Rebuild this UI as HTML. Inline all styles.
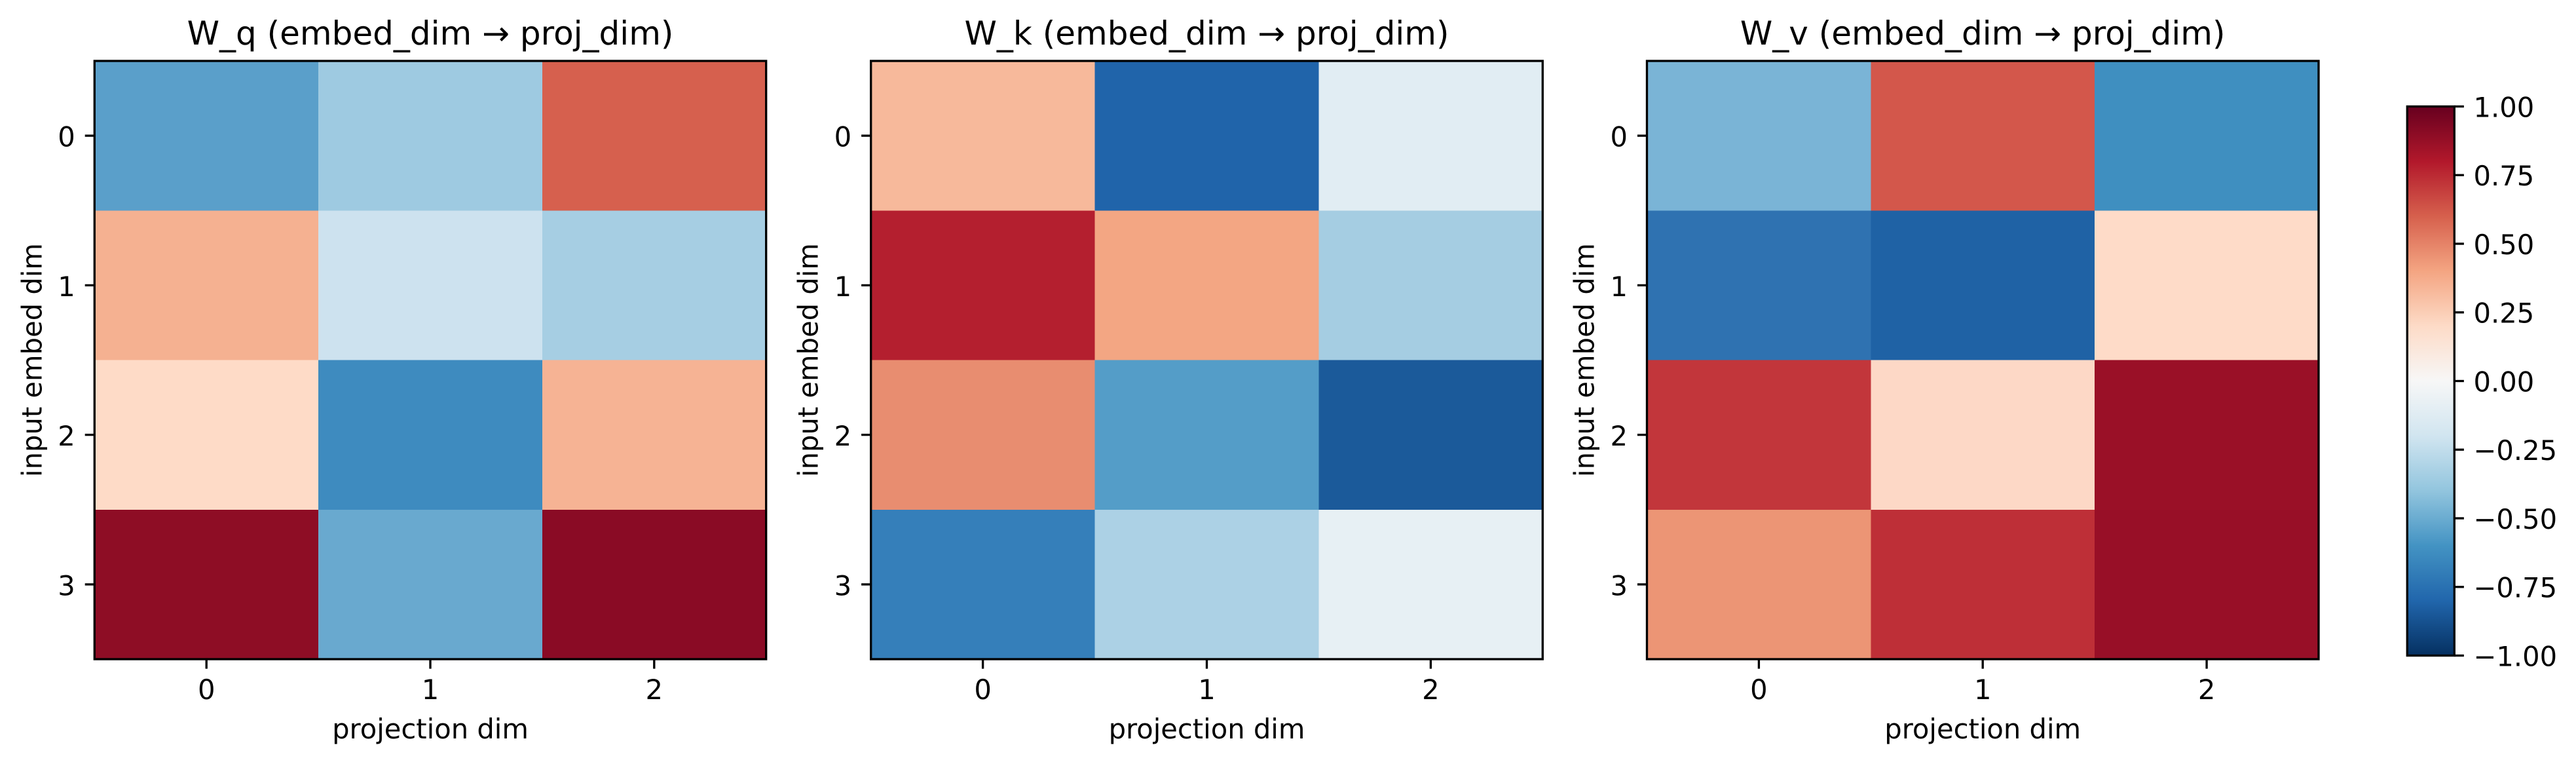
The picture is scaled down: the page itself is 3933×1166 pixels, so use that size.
<!DOCTYPE html>
<html>
<head>
<meta charset="utf-8">
<style>
  html, body { margin:0; padding:0; background:#ffffff; }
  svg { display:block; }
  text { font-family: "DejaVu Sans", "Liberation Sans", sans-serif; fill:#000; }
</style>
</head>
<body>
<svg width="3933" height="1166" viewBox="0 0 3933 1166" xmlns="http://www.w3.org/2000/svg">
  <defs>
    <linearGradient id="rdbu" x1="0" y1="1" x2="0" y2="0">
      <stop offset="0" stop-color="#053061"/>
      <stop offset="0.1" stop-color="#2166ac"/>
      <stop offset="0.2" stop-color="#4393c3"/>
      <stop offset="0.3" stop-color="#92c5de"/>
      <stop offset="0.4" stop-color="#d1e5f0"/>
      <stop offset="0.5" stop-color="#f7f7f7"/>
      <stop offset="0.6" stop-color="#fddbc7"/>
      <stop offset="0.7" stop-color="#f4a582"/>
      <stop offset="0.8" stop-color="#d6604d"/>
      <stop offset="0.9" stop-color="#b2182b"/>
      <stop offset="1" stop-color="#67001f"/>
    </linearGradient>
  </defs>
  <rect x="0" y="0" width="3933" height="1166" fill="#ffffff"/>

  <!-- ===== Axes 1: W_q ===== -->
  <g shape-rendering="crispEdges">
    <rect x="144.3" y="93" width="342.3" height="228.8" fill="#5a9fca"/>
    <rect x="486.1" y="93" width="342.3" height="228.8" fill="#9ecae1"/>
    <rect x="827.9" y="93" width="341.8" height="228.8" fill="#d6604e"/>
    <rect x="144.3" y="321.25" width="342.3" height="228.8" fill="#f5b191"/>
    <rect x="486.1" y="321.25" width="342.3" height="228.8" fill="#cde2ef"/>
    <rect x="827.9" y="321.25" width="341.8" height="228.8" fill="#a6cee3"/>
    <rect x="144.3" y="549.5" width="342.3" height="228.8" fill="#fedbc7"/>
    <rect x="486.1" y="549.5" width="342.3" height="228.8" fill="#3e8bbf"/>
    <rect x="827.9" y="549.5" width="341.8" height="228.8" fill="#f6b394"/>
    <rect x="144.3" y="777.75" width="342.3" height="228.25" fill="#8e0d25"/>
    <rect x="486.1" y="777.75" width="342.3" height="228.25" fill="#69a9cf"/>
    <rect x="827.9" y="777.75" width="341.8" height="228.25" fill="#8a0b25"/>
  </g>
  <rect x="144.3" y="93" width="1025.4" height="913" fill="none" stroke="#000" stroke-width="3.33"/>
  <g stroke="#000" stroke-width="3.33">
    <line x1="315.2" y1="1006" x2="315.2" y2="1020.6"/>
    <line x1="657" y1="1006" x2="657" y2="1020.6"/>
    <line x1="998.8" y1="1006" x2="998.8" y2="1020.6"/>
    <line x1="144.3" y1="207.1" x2="129.7" y2="207.1"/>
    <line x1="144.3" y1="435.4" x2="129.7" y2="435.4"/>
    <line x1="144.3" y1="663.6" x2="129.7" y2="663.6"/>
    <line x1="144.3" y1="891.9" x2="129.7" y2="891.9"/>
  </g>
  <g font-size="41.67" text-anchor="middle">
    <text x="315.2" y="1067">0</text>
    <text x="657" y="1067">1</text>
    <text x="998.8" y="1067">2</text>
    <text x="657" y="1127">projection dim</text>
  </g>
  <g font-size="41.67" text-anchor="end">
    <text x="114.8" y="223.5">0</text>
    <text x="114.8" y="451.8">1</text>
    <text x="114.8" y="680">2</text>
    <text x="114.8" y="908.3">3</text>
  </g>
  <text font-size="41.67" text-anchor="middle" transform="translate(63.3,549.5) rotate(-90)">input embed dim</text>
  <text font-size="50" text-anchor="middle" x="657" y="68">W_q (embed_dim → proj_dim)</text>

  <!-- ===== Axes 2: W_k ===== -->
  <g shape-rendering="crispEdges">
    <rect x="1329.7" y="93" width="342.3" height="228.8" fill="#f7b99b"/>
    <rect x="1671.6" y="93" width="342.3" height="228.8" fill="#2064aa"/>
    <rect x="2013.4" y="93" width="341.9" height="228.8" fill="#e1edf3"/>
    <rect x="1329.7" y="321.25" width="342.3" height="228.8" fill="#b41f2f"/>
    <rect x="1671.6" y="321.25" width="342.3" height="228.8" fill="#f3a683"/>
    <rect x="2013.4" y="321.25" width="341.9" height="228.8" fill="#a5cde2"/>
    <rect x="1329.7" y="549.5" width="342.3" height="228.8" fill="#e88d70"/>
    <rect x="1671.6" y="549.5" width="342.3" height="228.8" fill="#549dc8"/>
    <rect x="2013.4" y="549.5" width="341.9" height="228.8" fill="#1b5a9a"/>
    <rect x="1329.7" y="777.75" width="342.3" height="228.25" fill="#357fba"/>
    <rect x="1671.6" y="777.75" width="342.3" height="228.25" fill="#acd1e5"/>
    <rect x="2013.4" y="777.75" width="341.9" height="228.25" fill="#e7f0f4"/>
  </g>
  <rect x="1329.7" y="93" width="1025.6" height="913" fill="none" stroke="#000" stroke-width="3.33"/>
  <g stroke="#000" stroke-width="3.33">
    <line x1="1500.6" y1="1006" x2="1500.6" y2="1020.6"/>
    <line x1="1842.5" y1="1006" x2="1842.5" y2="1020.6"/>
    <line x1="2184.4" y1="1006" x2="2184.4" y2="1020.6"/>
    <line x1="1329.7" y1="207.1" x2="1315.1" y2="207.1"/>
    <line x1="1329.7" y1="435.4" x2="1315.1" y2="435.4"/>
    <line x1="1329.7" y1="663.6" x2="1315.1" y2="663.6"/>
    <line x1="1329.7" y1="891.9" x2="1315.1" y2="891.9"/>
  </g>
  <g font-size="41.67" text-anchor="middle">
    <text x="1500.6" y="1067">0</text>
    <text x="1842.5" y="1067">1</text>
    <text x="2184.4" y="1067">2</text>
    <text x="1842.5" y="1127">projection dim</text>
  </g>
  <g font-size="41.67" text-anchor="end">
    <text x="1300.2" y="223.5">0</text>
    <text x="1300.2" y="451.8">1</text>
    <text x="1300.2" y="680">2</text>
    <text x="1300.2" y="908.3">3</text>
  </g>
  <text font-size="41.67" text-anchor="middle" transform="translate(1248.7,549.5) rotate(-90)">input embed dim</text>
  <text font-size="50" text-anchor="middle" x="1842.5" y="68">W_k (embed_dim → proj_dim)</text>

  <!-- ===== Axes 3: W_v ===== -->
  <g shape-rendering="crispEdges">
    <rect x="2514.5" y="93" width="342.3" height="228.8" fill="#7ab4d6"/>
    <rect x="2856.3" y="93" width="342.3" height="228.8" fill="#d3574b"/>
    <rect x="3198.2" y="93" width="341.8" height="228.8" fill="#3f8fc0"/>
    <rect x="2514.5" y="321.25" width="342.3" height="228.8" fill="#2f72b1"/>
    <rect x="2856.3" y="321.25" width="342.3" height="228.8" fill="#1f62a5"/>
    <rect x="3198.2" y="321.25" width="341.8" height="228.8" fill="#fedbc8"/>
    <rect x="2514.5" y="549.5" width="342.3" height="228.8" fill="#c2363b"/>
    <rect x="2856.3" y="549.5" width="342.3" height="228.8" fill="#fdd8c6"/>
    <rect x="3198.2" y="549.5" width="341.8" height="228.8" fill="#9a1027"/>
    <rect x="2514.5" y="777.75" width="342.3" height="228.25" fill="#ec9575"/>
    <rect x="2856.3" y="777.75" width="342.3" height="228.25" fill="#be2f37"/>
    <rect x="3198.2" y="777.75" width="341.8" height="228.25" fill="#980f27"/>
  </g>
  <rect x="2514.5" y="93" width="1025.5" height="913" fill="none" stroke="#000" stroke-width="3.33"/>
  <g stroke="#000" stroke-width="3.33">
    <line x1="2685.4" y1="1006" x2="2685.4" y2="1020.6"/>
    <line x1="3027.2" y1="1006" x2="3027.2" y2="1020.6"/>
    <line x1="3369.1" y1="1006" x2="3369.1" y2="1020.6"/>
    <line x1="2514.5" y1="207.1" x2="2499.9" y2="207.1"/>
    <line x1="2514.5" y1="435.4" x2="2499.9" y2="435.4"/>
    <line x1="2514.5" y1="663.6" x2="2499.9" y2="663.6"/>
    <line x1="2514.5" y1="891.9" x2="2499.9" y2="891.9"/>
  </g>
  <g font-size="41.67" text-anchor="middle">
    <text x="2685.4" y="1067">0</text>
    <text x="3027.2" y="1067">1</text>
    <text x="3369.1" y="1067">2</text>
    <text x="3027.2" y="1127">projection dim</text>
  </g>
  <g font-size="41.67" text-anchor="end">
    <text x="2485" y="223.5">0</text>
    <text x="2485" y="451.8">1</text>
    <text x="2485" y="680">2</text>
    <text x="2485" y="908.3">3</text>
  </g>
  <text font-size="41.67" text-anchor="middle" transform="translate(2433.5,549.5) rotate(-90)">input embed dim</text>
  <text font-size="50" text-anchor="middle" x="3027.2" y="68">W_v (embed_dim → proj_dim)</text>

  <!-- ===== Colorbar ===== -->
  <rect x="3675.3" y="162.5" width="72" height="838" fill="url(#rdbu)"/>
  <rect x="3675.3" y="162.5" width="72" height="838" fill="none" stroke="#000" stroke-width="3.33"/>
  <g stroke="#000" stroke-width="3.33">
    <line x1="3747.3" y1="162.5" x2="3761.9" y2="162.5"/>
    <line x1="3747.3" y1="267.25" x2="3761.9" y2="267.25"/>
    <line x1="3747.3" y1="372" x2="3761.9" y2="372"/>
    <line x1="3747.3" y1="476.75" x2="3761.9" y2="476.75"/>
    <line x1="3747.3" y1="581.5" x2="3761.9" y2="581.5"/>
    <line x1="3747.3" y1="686.25" x2="3761.9" y2="686.25"/>
    <line x1="3747.3" y1="791" x2="3761.9" y2="791"/>
    <line x1="3747.3" y1="895.75" x2="3761.9" y2="895.75"/>
    <line x1="3747.3" y1="1000.5" x2="3761.9" y2="1000.5"/>
  </g>
  <g font-size="41.67" text-anchor="start">
    <text x="3776.5" y="178.3">1.00</text>
    <text x="3776.5" y="283">0.75</text>
    <text x="3776.5" y="387.8">0.50</text>
    <text x="3776.5" y="492.5">0.25</text>
    <text x="3776.5" y="597.3">0.00</text>
    <text x="3776.5" y="702">−0.25</text>
    <text x="3776.5" y="806.8">−0.50</text>
    <text x="3776.5" y="911.5">−0.75</text>
    <text x="3776.5" y="1016.3">−1.00</text>
  </g>
</svg>
</body>
</html>
